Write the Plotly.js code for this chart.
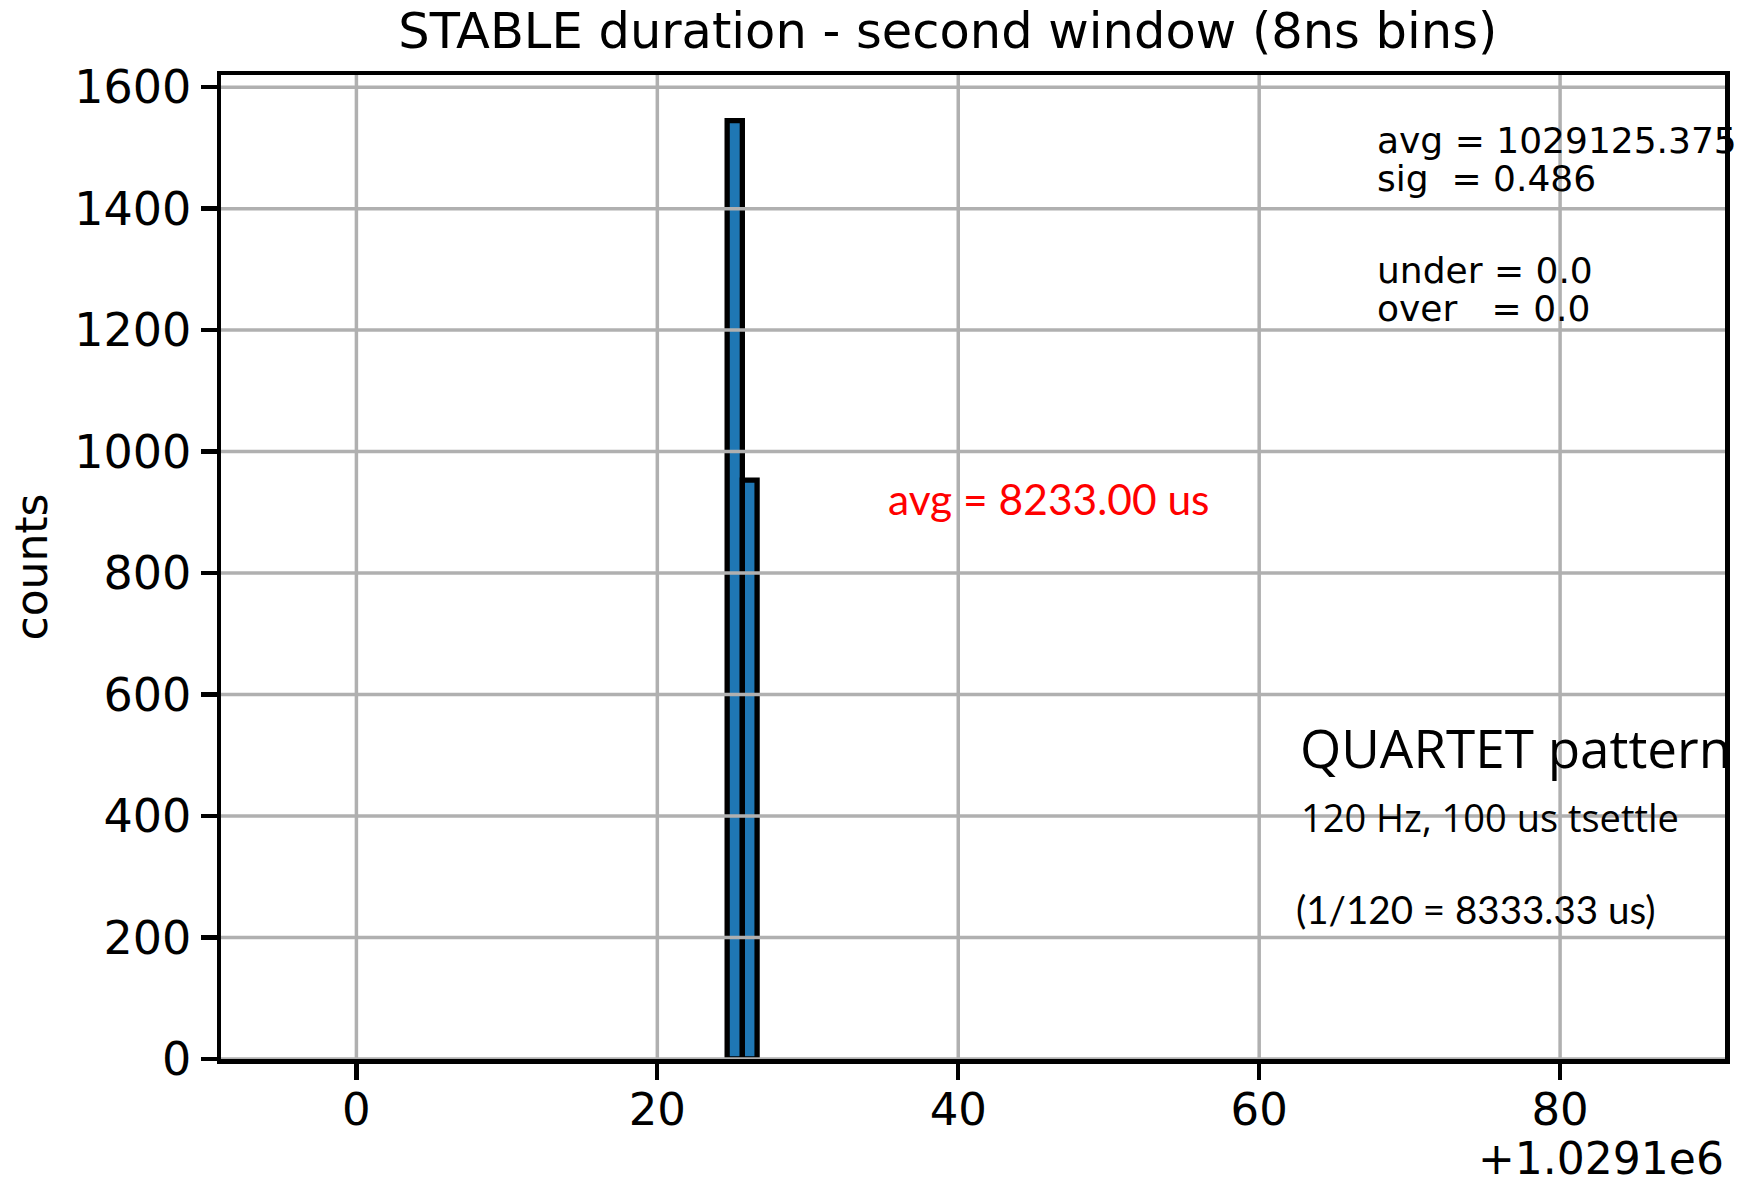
<!DOCTYPE html>
<html>
<head>
<meta charset="utf-8">
<script src="https://cdn.plot.ly/plotly-3.0.1.min.js"></script>
<style>html,body{margin:0;padding:0;background:#fff;}#chart{width:1739px;height:1188px;}</style>
</head>
<body>
<div id="chart"></div>
<script>
// Histogram data (x offset relative to +1.0291e6)
const binEdges = [24.64, 25.65, 26.63];
const counts = [1545, 953];
const xTicks = [0, 20, 40, 60, 80];
const xTickLabels = ['0', '20', '40', '60', '80'];
const yTicks = [0, 200, 400, 600, 800, 1000, 1200, 1400, 1600];
const yTickLabels = ['0', '200', '400', '600', '800', '1000', '1200', '1400', '1600'];
const titleText = 'STABLE duration - second window (8ns bins)';
const statsLines = ['avg = 1029125.375', 'sig\u00a0\u00a0= 0.486', 'under = 0.0', 'over\u00a0\u00a0\u00a0= 0.0'];

const centers = counts.map((c, i) => (binEdges[i] + binEdges[i + 1]) / 2);
const widths = counts.map((c, i) => binEdges[i + 1] - binEdges[i]);

const DV = 'DejaVu Sans, sans-serif';
const gridColor = '#b0b0b0';

const trace = {
  type: 'bar',
  x: centers,
  y: counts,
  width: widths,
  marker: {color: '#1f77b4', line: {color: '#000000', width: 5.3}},
  hoverinfo: 'x+y'
};

const shapes = [];
xTicks.forEach(v => shapes.push({type: 'line', xref: 'x', yref: 'paper', x0: v, x1: v, y0: 0, y1: 1, layer: 'above', line: {color: gridColor, width: 3.5}}));
yTicks.forEach(v => shapes.push({type: 'line', xref: 'paper', yref: 'y', x0: 0, x1: 1, y0: v, y1: v, layer: 'above', line: {color: gridColor, width: 3.5}}));

const statsY = [0.9335, 0.895, 0.8015, 0.763];
const annotations = statsLines.map((t, i) => ({
  text: t, xref: 'paper', yref: 'paper', x: 0.7675, y: statsY[i], xanchor: 'left', yanchor: 'middle',
  showarrow: false, font: {family: DV, size: 36, color: '#000'}
}));
annotations.push(
  {text: 'avg = 8233.00 us', xref: 'paper', yref: 'paper', x: 0.442, y: 0.570, xanchor: 'left', yanchor: 'middle',
   showarrow: false, font: {family: 'Lato, sans-serif', size: 42.5, color: '#ff0000'}},
  {text: 'QUARTET pattern', xref: 'paper', yref: 'paper', x: 0.716, y: 0.3168, xanchor: 'left', yanchor: 'middle',
   showarrow: false, font: {family: '"Open Sans", sans-serif', size: 53, color: '#000'}},
  {text: '120 Hz, 100 us tsettle', xref: 'paper', yref: 'paper', x: 0.7165, y: 0.2457, xanchor: 'left', yanchor: 'middle',
   showarrow: false, font: {family: '"Open Sans", sans-serif', size: 38, color: '#000'}},
  {text: '(1/120 = 8333.33 us)', xref: 'paper', yref: 'paper', x: 0.7135, y: 0.1523, xanchor: 'left', yanchor: 'middle',
   showarrow: false, font: {family: 'Lato, sans-serif', size: 38.5, color: '#000'}},
  {text: '+1.0291e6', xref: 'paper', yref: 'paper', x: 1.0, y: -0.101, xanchor: 'right', yanchor: 'middle',
   height: 40, valign: 'middle', borderpad: 0,
   showarrow: false, font: {family: DV, size: 44, color: '#000'}}
);

const layout = {
  width: 1739, height: 1188,
  paper_bgcolor: '#ffffff', plot_bgcolor: '#ffffff',
  margin: {l: 220.5, r: 14, t: 74.5, b: 128.5},
  showlegend: false,
  bargap: 0,
  title: {text: titleText, font: {family: DV, size: 49.5, color: '#000'}, xref: 'container', x: 0.545, xanchor: 'center', yref: 'container', y: 0.974, yanchor: 'middle'},
  xaxis: {
    range: [-9.0, 90.96], tickmode: 'array', tickvals: xTicks, ticktext: xTickLabels,
    showgrid: false, zeroline: false, showline: true, linecolor: '#000', linewidth: 4.5, mirror: true,
    ticks: 'outside', ticklen: 16, tickwidth: 4.3, tickcolor: '#000', ticklabelstandoff: -9,
    tickfont: {family: DV, size: 45, color: '#000'}, layer: 'above traces'
  },
  yaxis: {
    range: [0, 1620], tickmode: 'array', tickvals: yTicks, ticktext: yTickLabels,
    showgrid: false, zeroline: false, showline: true, linecolor: '#000', linewidth: 4.5, mirror: true,
    ticks: 'outside', ticklen: 16, tickwidth: 4.3, tickcolor: '#000',
    tickfont: {family: DV, size: 46, color: '#000'}, layer: 'above traces',
    title: {text: 'counts', font: {family: DV, size: 44, color: '#000'}, standoff: 14}
  },
  shapes: shapes,
  annotations: annotations
};

Plotly.newPlot('chart', [trace], layout, {displayModeBar: false, staticPlot: true});
</script>
</body>
</html>
